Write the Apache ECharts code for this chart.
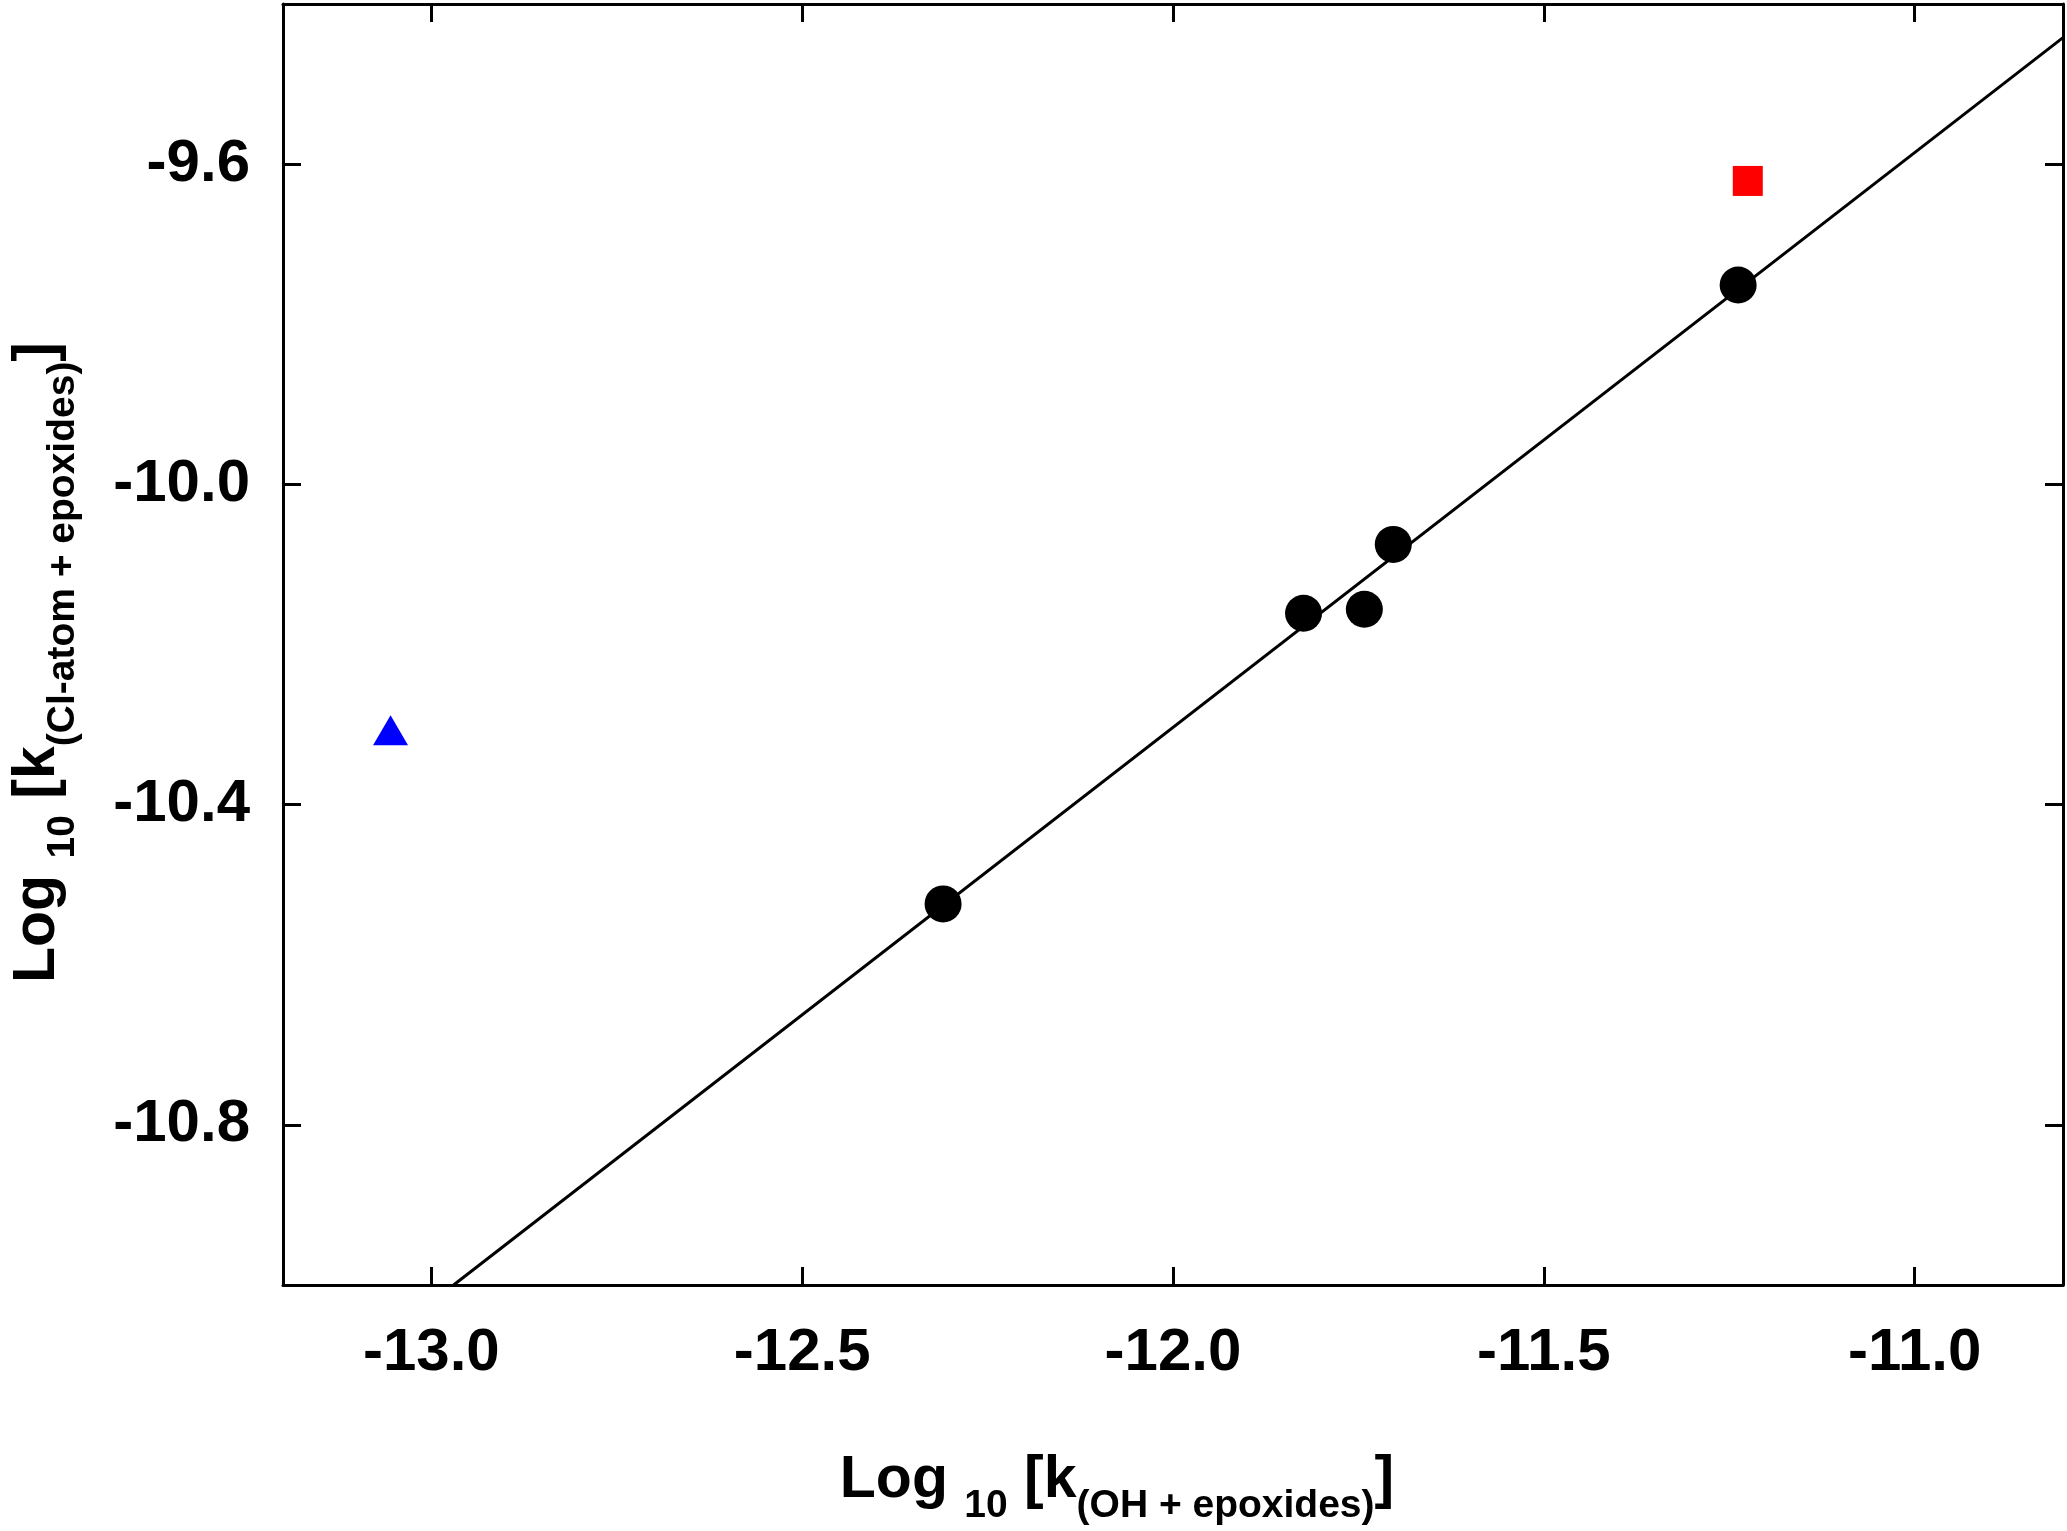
<!DOCTYPE html>
<html>
<head>
<meta charset="utf-8">
<title>Cl-atom vs OH rate constants</title>
<script src="https://cdn.jsdelivr.net/npm/echarts@6/dist/echarts.min.js"></script>
<style>
  html, body { margin: 0; padding: 0; background: #fff; }
  #chart { width: 2067px; height: 1531px; }
</style>
</head>
<body>
<div id="chart"></div>
<script>
// log10 k(OH + epoxides) on x, log10 k(Cl-atom + epoxides) on y
var circleX = [-12.310, -11.824, -11.742, -11.703, -11.238];
var circleY = [-10.524, -10.161, -10.156, -10.075, -9.751];
var squareX = [-11.225];
var squareY = [-9.621];
var triangleX = [-13.055];
var triangleY = [-10.307];
// regression line, read at the plot edges
var fitX = [-12.97, -10.80];
var fitY = [-11.00, -9.442];
var xTicks = [-13.0, -12.5, -12.0, -11.5, -11.0];
var yTicks = [-10.8, -10.4, -10.0, -9.6];

var FONT = 'Liberation Sans';

function pairs(xs, ys) {
    var out = [];
    for (var i = 0; i < xs.length; i++) out.push([xs[i], ys[i]]);
    return out;
}

var titleRich = {
    m: { fontFamily: FONT, fontWeight: 'bold', fontSize: 59, color: '#000' },
    s: { fontFamily: FONT, fontWeight: 'bold', fontSize: 39, color: '#000', padding: [52, 0, 0, 0] }
};

function axis(pos, min, max, ticks, labelMargin, extra) {
    var a = {
        type: 'value',
        position: pos,
        min: min,
        max: max,
        axisLine: { show: true, onZero: false, lineStyle: { color: '#000', width: 3 } },
        axisTick: { show: true, inside: true, length: 18, customValues: ticks, lineStyle: { color: '#000', width: 3 } },
        axisLabel: {
            show: labelMargin > 0,
            customValues: ticks,
            margin: labelMargin,
            fontFamily: FONT,
            fontWeight: 'bold',
            fontSize: 60,
            color: '#000',
            formatter: function (v) { return v.toFixed(1); }
        },
        splitLine: { show: false }
    };
    for (var k in extra) a[k] = extra[k];
    return a;
}

var chart = echarts.init(document.getElementById('chart'));

chart.setOption({
    animation: false,
    backgroundColor: '#fff',
    grid: { left: 277, right: 4, top: 4, bottom: 243, containLabel: false },
    xAxis: [
        axis('bottom', -13.2, -10.8, xTicks, 38, {
            name: '{m|Log }{s|10}{m| [k}{s|(OH + epoxides)}{m|]}',
            nameLocation: 'middle',
            nameGap: 150,
            nameTextStyle: { rich: titleRich, padding: [0, 112, 0, 0] }
        }),
        axis('top', -13.2, -10.8, xTicks, 0, {})
    ],
    yAxis: [
        axis('left', -11.0, -9.4, yTicks, 33, {
            name: '{m|Log }{s|10}{m| [k}{s|(Cl-atom + epoxides)}{m|]}',
            nameLocation: 'middle',
            nameGap: 200,
            nameTextStyle: { rich: titleRich, padding: [0, 36, 0, 0] }
        }),
        axis('right', -11.0, -9.4, yTicks, 0, {})
    ],
    series: [
        {
            type: 'line',
            data: pairs(fitX, fitY),
            showSymbol: false,
            clip: true,
            lineStyle: { color: '#000', width: 3 },
            z: 2
        },
        {
            type: 'scatter',
            data: pairs(circleX, circleY),
            symbol: 'circle',
            symbolSize: 37,
            itemStyle: { color: '#000', opacity: 1 },
            z: 3
        },
        {
            type: 'scatter',
            data: pairs(squareX, squareY),
            symbol: 'rect',
            symbolSize: 30,
            itemStyle: { color: '#ff0000', opacity: 1 },
            z: 3
        },
        {
            type: 'scatter',
            data: pairs(triangleX, triangleY),
            symbol: 'triangle',
            symbolSize: [35, 30],
            itemStyle: { color: '#0000ff', opacity: 1 },
            z: 3
        }
    ]
});
</script>
</body>
</html>
